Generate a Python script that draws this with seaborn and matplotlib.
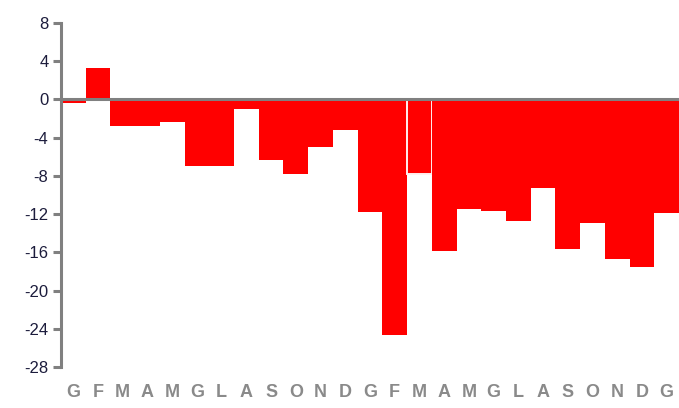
import numpy as np
import pandas as pd
import matplotlib
matplotlib.use("Agg")
import matplotlib.pyplot as plt
import seaborn as sns

# month initials (Italian), two years plus one January
months = ["G", "F", "M", "A", "M", "G", "L", "A", "S", "O", "N", "D",
          "G", "F", "M", "A", "M", "G", "L", "A", "S", "O", "N", "D", "G"]
values = [-0.4, 3.3, -2.8, -2.8, -2.4, -7.0, -7.0, -1.05, -6.3, -7.8, -5.0, -3.2,
          -11.8, -24.7, -7.8, -15.9, -11.5, -11.7, -12.7, -9.3, -15.7, -12.9, -16.7, -17.5, -11.9]
yticks = [8, 4, 0, -4, -8, -12, -16, -20, -24, -28]

df = pd.DataFrame({"pos": range(len(values)), "value": values})

sns.set_style("white")
plt.rcParams["font.family"] = ["Liberation Sans", "DejaVu Sans"]

fig = plt.figure(figsize=(6.79, 4.08), dpi=100)
ax = fig.add_axes([0.0898, 0.1005, 0.9102, 0.8435])

sns.barplot(data=df, x="pos", y="value", color="#ff0000", saturation=1,
            width=1.0, linewidth=0, ax=ax)

# the short bar between the two deep ones shows a thin light outline in the original
ax.patches[14].set_edgecolor("#fff0f0")
ax.patches[14].set_linewidth(1.4)

ax.set_xlim(-0.5, len(values) - 0.5)
ax.set_ylim(-28, 8)
ax.set_yticks(yticks)
ax.set_yticklabels([str(t) for t in yticks], color="#1c1c3c", fontsize=12)
ax.set_xticks(range(len(months)))
ax.set_xticklabels(months, color="#8a8a8a", fontsize=13, fontweight="bold")
ax.set_xlabel("")
ax.set_ylabel("")

for side in ["top", "right", "bottom"]:
    ax.spines[side].set_visible(False)
ax.spines["left"].set_color("#808080")
ax.spines["left"].set_linewidth(2.2)
ax.axhline(0, color="#808080", linewidth=2.2, zorder=5)

ax.tick_params(axis="y", direction="out", length=6, width=2.2, color="#808080", pad=3, left=True)
ax.tick_params(axis="x", length=0, pad=12)

fig.savefig("out.png", dpi=100)
